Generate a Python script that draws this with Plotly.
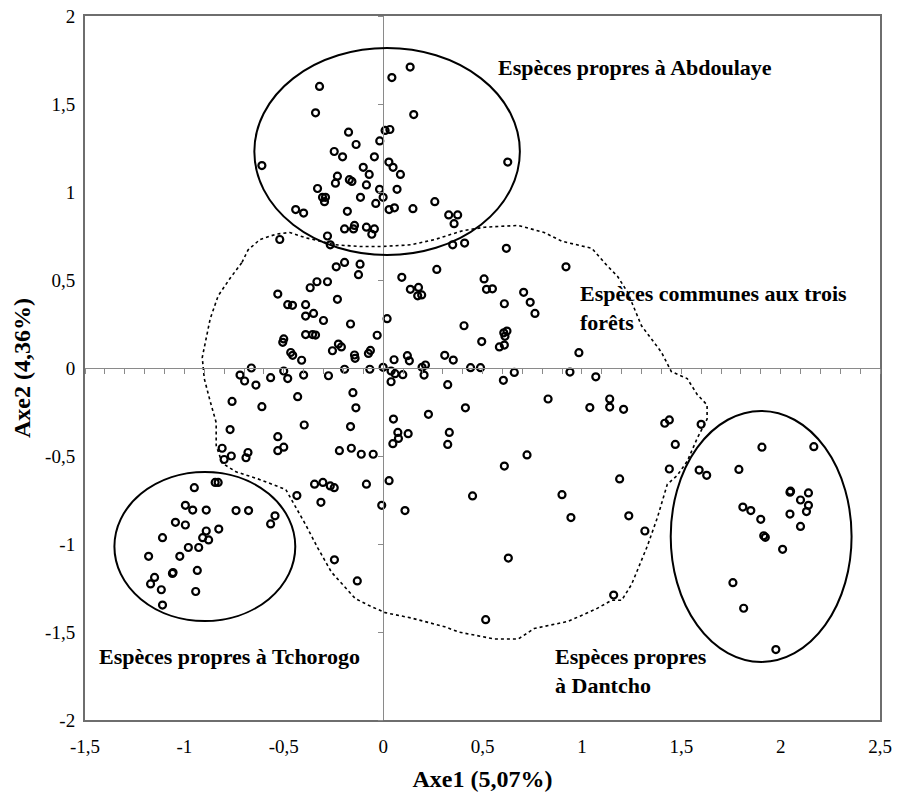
import plotly.graph_objects as go

# ---------------- data (axis units) ----------------
abd_x = [-0.61, -0.52, -0.32, 0.044, 0.136, -0.34, 0.154, -0.174, 0.01, 0.034, -0.136, -0.017, -0.246,
         -0.204, -0.044, 0.029, -0.10, 0.05, 0.087, -0.07, -0.23, -0.24, -0.17, -0.157, -0.084, -0.33,
         -0.018, 0.07, -0.305, -0.29, -0.295, -0.114, 0.0, -0.037, -0.44, -0.40, -0.18, 0.03, 0.057, 0.15,
         0.26, 0.33, 0.375, 0.357, -0.194, -0.144, -0.149, -0.084, -0.044, -0.057, -0.28, -0.266, 0.35,
         0.41, 0.627]
abd_y = [1.15, 0.73, 1.60, 1.65, 1.71, 1.45, 1.44, 1.34, 1.35, 1.355, 1.27, 1.29, 1.23,
         1.20, 1.20, 1.17, 1.14, 1.14, 1.10, 1.10, 1.09, 1.05, 1.07, 1.06, 1.04, 1.02,
         1.015, 1.015, 0.97, 0.97, 0.945, 0.97, 0.97, 0.935, 0.90, 0.88, 0.89, 0.90, 0.91, 0.905,
         0.945, 0.87, 0.87, 0.82, 0.79, 0.81, 0.79, 0.80, 0.79, 0.76, 0.75, 0.70, 0.70,
         0.71, 1.17]

com_x = [0.62, -0.53, -0.48, -0.50, -0.505, -0.465, -0.455, -0.663, -0.72, -0.697, -0.64, -0.566, -0.50,
         -0.48, -0.76, -0.61, -0.77, -0.53, -0.81, -0.764, -0.80, -0.68, -0.69, -0.53, -0.50, -0.194,
         -0.236, -0.116, -0.124, 0.27, 0.094, -0.28, -0.333, -0.367, 0.137, 0.178, 0.174, 0.194, 0.508,
         0.52, 0.55, -0.23, -0.456, -0.39, -0.39, -0.35, -0.30, -0.164, 0.02, 0.407, -0.03, -0.39,
         -0.355, -0.34, 0.496, -0.225, -0.21, -0.255, -0.41, -0.144, -0.141, -0.074, -0.064, 0.055,
         0.122, 0.132, 0.31, 0.353, -0.194, -0.067, 0.0, -0.40, -0.275, 0.04, 0.06, 0.099, 0.04, 0.196,
         0.213, 0.206, 0.325, 0.44, 0.49, -0.43, -0.152, -0.137, 0.228, 0.414, -0.397, -0.164, 0.052,
         0.074, 0.126, 0.077, 0.049, 0.333, 0.325, -0.22, -0.16, -0.11, -0.05, -0.345, -0.303, -0.266,
         -0.246, -0.084, 0.03, -0.434, -0.313, -0.007, 0.11, 0.45, -0.245, -0.13, 0.516, 0.92, 0.707,
         0.74, 0.764, 0.61, 0.607, 0.623, 0.613, 0.585, 0.61, 0.985, 0.66, 0.605, 0.94, 1.07, 0.83,
         1.04, 1.14, 1.14, 1.21, 1.417, 1.44, 1.47, 0.61, 0.724, 1.19, 1.44, 0.90, 0.945, 1.236, 1.317,
         0.63, 1.16]
com_y = [0.68, 0.42, 0.36, 0.165, 0.146, 0.088, 0.072, 0.0, -0.04, -0.074, -0.097, -0.055, -0.017,
         -0.06, -0.19, -0.22, -0.35, -0.39, -0.456, -0.50, -0.52, -0.48, -0.51, -0.47, -0.45, 0.60,
         0.575, 0.59, 0.53, 0.56, 0.515, 0.49, 0.49, 0.456, 0.447, 0.458, 0.41, 0.415, 0.506,
         0.447, 0.45, 0.39, 0.356, 0.36, 0.295, 0.31, 0.27, 0.25, 0.28, 0.24, 0.186, 0.19,
         0.19, 0.187, 0.15, 0.136, 0.12, 0.098, 0.044, 0.074, 0.055, 0.083, 0.10, 0.047,
         0.07, 0.041, 0.072, 0.045, -0.007, -0.007, 0.004, -0.04, -0.044, -0.017, -0.032, -0.038, -0.078, 0.004,
         0.017, -0.04, -0.095, 0.002, 0.002, -0.163, -0.14, -0.226, -0.263, -0.226, -0.324, -0.333, -0.29,
         -0.366, -0.373, -0.40, -0.43, -0.366, -0.434, -0.47, -0.456, -0.49, -0.49, -0.66, -0.65, -0.67,
         -0.68, -0.66, -0.64, -0.725, -0.763, -0.78, -0.81, -0.727, -1.09, -1.21, -1.43, 0.575, 0.43,
         0.373, 0.31, 0.365, 0.2, 0.21, 0.18, 0.12, 0.13, 0.087, -0.025, -0.07, -0.023, -0.05, -0.176,
         -0.225, -0.176, -0.222, -0.235, -0.314, -0.295, -0.434, -0.557, -0.494, -0.63, -0.574, -0.72, -0.85, -0.84, -0.926,
         -1.08, -1.29]

dan_x = [1.60, 1.906, 2.167, 1.59, 1.628, 1.79, 2.05, 2.047, 2.14, 2.10, 2.14, 2.13, 2.047, 2.10,
         1.81, 1.85, 1.90, 1.915, 1.923, 2.01, 1.76, 1.814, 1.976]
dan_y = [-0.32, -0.45, -0.447, -0.58, -0.61, -0.576, -0.70, -0.706, -0.71, -0.75, -0.78, -0.816, -0.83, -0.90,
         -0.79, -0.81, -0.86, -0.953, -0.962, -1.03, -1.22, -1.365, -1.60]

tch_x = [-0.95, -0.845, -0.83, -0.995, -0.958, -0.89, -0.74, -0.677, -0.544, -0.566, -1.045, -0.995,
         -0.89, -0.827, -0.908, -0.878, -1.11, -0.98, -0.928, -1.023, -1.18, -1.06, -1.057, -0.935,
         -1.15, -1.17, -1.116, -0.943, -1.11]
tch_y = [-0.68, -0.65, -0.65, -0.78, -0.807, -0.807, -0.81, -0.81, -0.84, -0.886, -0.877, -0.892,
         -0.926, -0.915, -0.964, -0.977, -0.964, -1.02, -1.02, -1.07, -1.07, -1.167, -1.162, -1.15,
         -1.19, -1.227, -1.26, -1.27, -1.347]

# dotted envelope of the species common to the three forests
env_x = [-0.71, -0.68, -0.62, -0.54, -0.47, -0.39, -0.24, -0.11, -0.01, 0.14, 0.26, 0.40, 0.51, 0.68,
         0.81, 0.90, 1.05, 1.12, 1.18, 1.23, 1.30, 1.40, 1.45, 1.53, 1.58, 1.63, 1.63, 1.58, 1.53, 1.48,
         1.43, 1.38, 1.33, 1.25, 1.20, 1.15, 1.07, 0.93, 0.76, 0.68, 0.56, 0.38, 0.31, 0.14, 0.01, -0.07,
         -0.14, -0.19, -0.26, -0.33, -0.39, -0.49, -0.63, -0.74, -0.81, -0.84, -0.84, -0.87, -0.90, -0.91,
         -0.89, -0.87, -0.83, -0.77, -0.71]
env_y = [0.60, 0.67, 0.73, 0.76, 0.77, 0.74, 0.70, 0.69, 0.69, 0.70, 0.73, 0.78, 0.80, 0.81,
         0.77, 0.72, 0.68, 0.59, 0.52, 0.43, 0.24, 0.09, -0.02, -0.06, -0.15, -0.21, -0.29, -0.40, -0.53, -0.61,
         -0.66, -0.85, -1.01, -1.23, -1.32, -1.32, -1.37, -1.44, -1.48, -1.54, -1.54, -1.50, -1.47, -1.42, -1.39, -1.35,
         -1.31, -1.25, -1.16, -1.02, -0.89, -0.69, -0.63, -0.59, -0.54, -0.44, -0.31, -0.19, -0.06, 0.06,
         0.17, 0.28, 0.41, 0.51, 0.60]

# ellipses around the forest-specific groups: [x0, x1, y0, y1]
ell_abdoulaye = [-0.648, 0.688, 0.642, 1.818]
ell_tchorogo = [-1.352, -0.442, -1.4375, -0.591]
ell_dantcho = [1.447, 2.357, -1.670, -0.244]

x_ticks = [-1.5, -1.0, -0.5, 0.0, 0.5, 1.0, 1.5, 2.0, 2.5]
x_labels = ["-1,5", "-1", "-0,5", "0", "0,5", "1", "1,5", "2", "2,5"]
y_ticks = [-2.0, -1.5, -1.0, -0.5, 0.0, 0.5, 1.0, 1.5, 2.0]
y_labels = ["-2", "-1,5", "-1", "-0,5", "0", "0,5", "1", "1,5", "2"]

labels = [
    ("Espèces propres à Abdoulaye", 0.57, 1.71),
    ("Espèces communes aux trois<br>forêts", 0.98, 0.34),
    ("Espèces propres à Tchorogo", -1.44, -1.64),
    ("Espèces propres<br>à Dantcho", 0.855, -1.72),
]

# ---------------- figure ----------------
SERIF = "Liberation Serif"
fig = go.Figure()

mk = dict(symbol="circle-open", size=7, color="black", line=dict(width=2.2, color="black"))
for xs, ys in [(abd_x, abd_y), (com_x, com_y), (dan_x, dan_y), (tch_x, tch_y)]:
    fig.add_trace(go.Scatter(x=xs, y=ys, mode="markers", marker=mk, showlegend=False,
                             hoverinfo="x+y"))

fig.add_trace(go.Scatter(x=env_x, y=env_y, mode="lines", xaxis="x2", yaxis="y2",
                         line=dict(color="black", width=1.6, dash="dot"),
                         showlegend=False, hoverinfo="skip"))

for e in (ell_abdoulaye, ell_tchorogo, ell_dantcho):
    fig.add_shape(type="circle", xref="x", yref="y", x0=e[0], x1=e[1], y0=e[2], y1=e[3],
                  line=dict(color="black", width=2), layer="above")

for txt, x, y in labels:
    fig.add_annotation(x=x, y=y, xref="x", yref="y", text="<b>" + txt + "</b>", showarrow=False,
                       xanchor="left", yanchor="middle", align="left",
                       font=dict(family=SERIF, size=22, color="black"))

frame = dict(showline=True, mirror=True, linecolor="#6e6e6e", linewidth=2, showgrid=False,
             zeroline=False, ticks="", tickfont=dict(family=SERIF, size=19, color="black"),
             automargin=False)

fig.update_layout(
    width=899, height=796,
    margin=dict(l=85, r=19, t=16, b=76),
    paper_bgcolor="white", plot_bgcolor="white",
    xaxis=dict(range=[-1.5, 2.5], tickvals=x_ticks, ticktext=x_labels, ticklabelstandoff=8,
               title=dict(text="<b>Axe1 (5,07%)</b>", font=dict(family=SERIF, size=24, color="black"),
                          standoff=14),
               **frame),
    yaxis=dict(range=[-2, 2], tickvals=y_ticks, ticktext=y_labels, ticklabelstandoff=4,
               title=dict(text="<b>Axe2 (4,36%)</b>", font=dict(family=SERIF, size=24, color="black"),
                          standoff=8),
               **frame),
    xaxis2=dict(range=[-1.5, 2.5], overlaying="x", anchor="free", position=0.5,
                showline=True, linecolor="#8a8a8a", linewidth=1, showgrid=False, zeroline=False,
                ticks="outside", tick0=0, dtick=0.1, ticklen=5, tickcolor="#8a8a8a",
                showticklabels=False),
    yaxis2=dict(range=[-2, 2], overlaying="y", anchor="free", position=0.375, side="left",
                showline=True, linecolor="#8a8a8a", linewidth=1, showgrid=False, zeroline=False,
                ticks="outside", tick0=0, dtick=0.5, ticklen=5, tickcolor="#8a8a8a",
                showticklabels=False),
)

# remove the browser's default 8px body margin so the 899x796 figure fills the window exactly
fig.write_html("out.html", config={"displayModeBar": False},
               post_script="document.body.style.margin='0px';")
